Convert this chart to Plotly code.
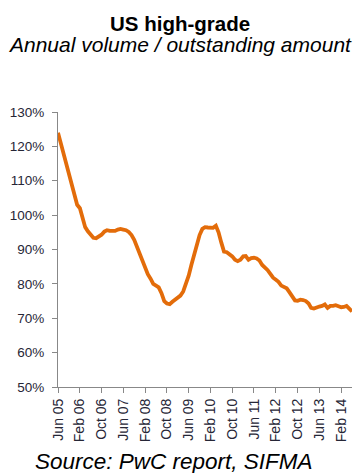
import pandas as pd
import plotly.graph_objects as go

# Monthly ratio of annual trading volume to outstanding amount, US high-grade (%)
ratio = [
    124.0, 121.0, 118.0, 115.0, 112.0, 108.5, 105.2, 103.0, 102.0, 99.3,
    96.5, 95.3, 94.3, 93.4, 93.3, 93.8, 94.3, 95.2, 95.6, 95.4,
    95.3, 95.4, 95.8, 96.0, 95.8, 95.6, 95.1, 94.2, 92.8, 90.8,
    88.8, 86.8, 84.6, 82.8, 81.5, 80.0, 79.5, 79.0, 77.3, 75.0,
    74.3, 74.1, 74.8, 75.4, 75.9, 76.6, 77.8, 79.8, 82.4, 85.5,
    88.4, 91.4, 94.2, 96.0, 96.5, 96.4, 96.2, 96.3, 96.9, 95.0,
    92.0, 89.4, 89.2, 88.7, 88.0, 87.0, 86.6, 87.0, 88.0, 88.1,
    87.0, 87.5, 87.6, 87.4, 86.8, 85.5, 84.8, 84.0, 82.9, 81.8,
    81.2, 80.6, 79.5, 79.0, 78.7, 77.6, 76.2, 75.2, 75.1, 75.4,
    75.3, 75.0, 74.3, 73.0, 72.8, 73.2, 73.4, 73.6, 74.0, 73.0,
    73.6, 73.6, 73.8, 73.5, 73.2, 73.3, 73.6, 72.8, 72.0,
]
months = pd.date_range("2005-06-01", periods=len(ratio), freq="MS")

y_ticks = [50, 60, 70, 80, 90, 100, 110, 120, 130]
y_labels = [f"{v}%" for v in y_ticks]

title_text = "US high-grade"
subtitle_text = "Annual volume / outstanding amount"
source_text = "Source: PwC report, SIFMA"

axis_grey = "#888888"
label_color = "#262636"
font_family = "Liberation Sans, Arial, sans-serif"

fig = go.Figure(
    go.Scatter(
        x=months,
        y=ratio,
        mode="lines",
        line=dict(color="#E36C0A", width=3.8, shape="linear"),
        hoverinfo="skip",
    )
)

fig.update_layout(
    width=360,
    height=473,
    margin=dict(l=58, r=8, t=112, b=86),
    paper_bgcolor="white",
    plot_bgcolor="white",
    showlegend=False,
    font=dict(family=font_family, color=label_color, size=14),
    xaxis=dict(
        type="date",
        range=[months[0], months[-1]],
        tick0="2005-06-01",
        dtick="M8",
        tickformat="%b %y",
        tickangle=-90,
        ticks="outside",
        ticklen=5,
        tickcolor=axis_grey,
        showline=True,
        linecolor=axis_grey,
        linewidth=1,
        showgrid=False,
        zeroline=False,
        tickfont=dict(size=14, color=label_color),
    ),
    yaxis=dict(
        range=[50, 130],
        tickmode="array",
        tickvals=y_ticks,
        ticktext=y_labels,
        ticks="outside",
        ticklen=5,
        tickcolor=axis_grey,
        showline=True,
        linecolor=axis_grey,
        linewidth=1,
        showgrid=False,
        zeroline=False,
        tickfont=dict(size=13.5, color=label_color),
        ticklabelstandoff=5,
    ),
    annotations=[
        dict(text="<b>" + title_text + "</b>", xref="paper", yref="paper",
             x=0.415, y=1.3236, xanchor="center", yanchor="middle",
             showarrow=False, font=dict(size=20.5, color="black")),
        dict(text="<i>" + subtitle_text + "</i>", xref="paper", yref="paper",
             x=0.415, y=1.247, xanchor="center", yanchor="middle",
             showarrow=False, font=dict(size=21, color="black")),
        dict(text="<i>" + source_text + "</i>", xref="paper", yref="paper",
             x=0.395, y=-0.2727, xanchor="center", yanchor="middle",
             showarrow=False, font=dict(size=22.5, color="black")),
    ],
)

fig.write_html("out.html")
